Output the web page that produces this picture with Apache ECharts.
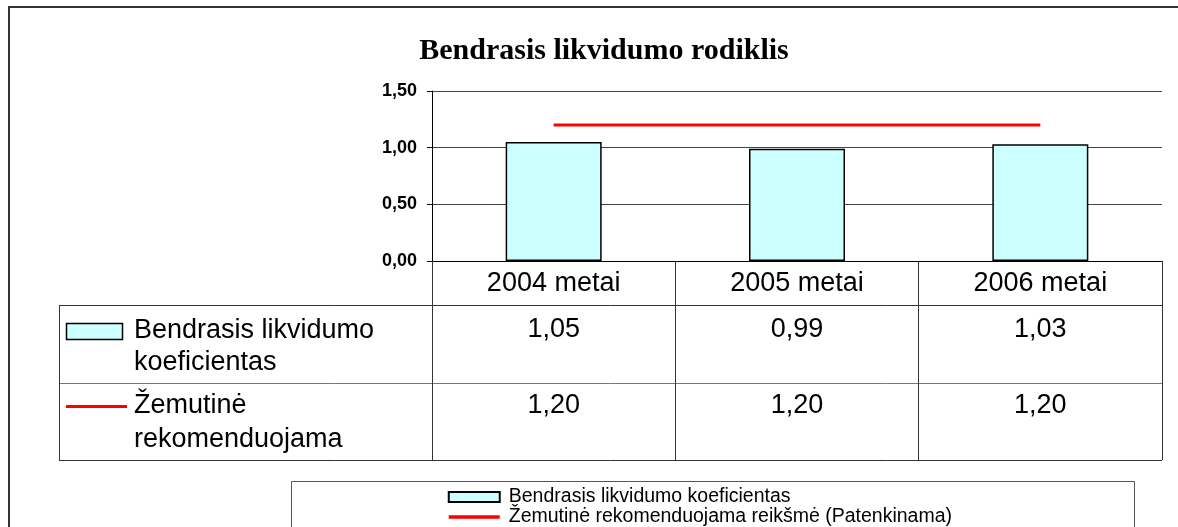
<!DOCTYPE html>
<html>
<head>
<meta charset="utf-8">
<script src="https://cdn.jsdelivr.net/npm/echarts@6/dist/echarts.min.js"></script>
<style>
html,body{margin:0;padding:0;background:#fff;}
#chart{width:1178px;height:527px;}
</style>
</head>
<body>
<div id="chart"></div>
<script>
// ---- data ----
var titleText = 'Bendrasis likvidumo rodiklis';
var categories = ['2004 metai', '2005 metai', '2006 metai'];
var barName = 'Bendrasis likvidumo koeficientas';
var lineName = 'Žemutinė rekomenduojama reikšmė (Patenkinama)';
var barValues = [1.05, 0.99, 1.03];
var lineValues = [1.20, 1.20, 1.20];
var rowHeaders = [['Bendrasis likvidumo', 'koeficientas'], ['Žemutinė', 'rekomenduojama']];
var yMin = 0, yMax = 1.5, yInterval = 0.5;

function fmt(v) { return v.toFixed(2).replace('.', ','); }

var SANS = '"Liberation Sans", Arial, sans-serif';
var SERIF = '"Liberation Serif", "Times New Roman", serif';

var chart = echarts.init(document.getElementById('chart'), null, {renderer: 'canvas'});

var option = {
  backgroundColor: '#fff',
  animation: false,
  title: {
    text: titleText,
    left: 599, top: 30, textAlign: 'center',
    textStyle: {fontFamily: SERIF, fontWeight: 'bold', fontSize: 30, lineHeight: 32, color: '#000'}
  },
  grid: {left: 432, right: 16, top: 91, bottom: 266, containLabel: false},
  legend: {
    orient: 'vertical', left: 447, top: 487, padding: 0, itemGap: 0,
    itemWidth: 51, itemHeight: 10,
    textStyle: {fontFamily: SANS, fontSize: 19.5, lineHeight: 18, color: '#000', padding: [0, 0, 0, 4]},
    data: [
      {name: barName, icon: 'rect', itemStyle: {borderWidth: 2, borderColor: '#000'}},
      {name: lineName, itemStyle: {opacity: 0, color: 'rgba(0,0,0,0)', borderWidth: 0}, lineStyle: {width: 3.5, color: '#FF0000'}}
    ]
  },
  xAxis: {
    type: 'category', data: categories, boundaryGap: true,
    axisLine: {show: true, lineStyle: {color: '#000', width: 1}},
    axisTick: {show: true, interval: 0, length: 199, inside: false, alignWithLabel: false, lineStyle: {color: '#333', width: 1}},
    axisLabel: {interval: 0, margin: 10, fontFamily: SANS, fontSize: 27, lineHeight: 26, color: '#000'},
    splitLine: {show: false}
  },
  yAxis: {
    type: 'value', min: yMin, max: yMax, interval: yInterval,
    axisLine: {show: true, lineStyle: {color: '#000', width: 1}},
    axisTick: {show: true, length: 5, inside: false, lineStyle: {color: '#000'}},
    axisLabel: {margin: 15, fontFamily: SANS, fontWeight: 'bold', fontSize: 18, color: '#000', formatter: fmt},
    splitLine: {show: true, lineStyle: {color: '#444', width: 1}}
  },
  series: [
    {
      name: barName, type: 'bar', data: barValues, barWidth: 96,
      itemStyle: {color: '#CCFFFF', borderColor: '#000', borderWidth: 1.5}
    },
    {
      name: lineName, type: 'line', data: lineValues, symbol: 'none', z: 5,
      lineStyle: {color: '#FF0000', width: 3},
      itemStyle: {color: '#FF0000'}
    }
  ]
};
chart.setOption(option);

// ---- data table & frames (positions from the chart's own scales) ----
var xs = categories.map(function (c) { return chart.convertToPixel({xAxisIndex: 0}, c); });
var plotRight = 1162;
var tableLeft = 59;
var rowTops = [305, 383, 460];
var rowTextY = [[331, 363], [406, 440]];
var valueY = [330, 406];
var rows = [barValues, lineValues];

var g = [];
// outer frame
g.push({type: 'rect', shape: {x: 9, y: 7, width: 1200, height: 600}, style: {fill: 'none', stroke: '#333', lineWidth: 2}, silent: true});
// legend box
g.push({type: 'rect', shape: {x: 291.5, y: 481.5, width: 843, height: 100}, style: {fill: 'none', stroke: '#555', lineWidth: 1}, silent: true, z: -1});
// table horizontal lines
rowTops.forEach(function (y, i) {
  g.push({type: 'line', shape: {x1: tableLeft, y1: y + 0.5, x2: plotRight, y2: y + 0.5},
    style: {stroke: i === 1 ? '#777' : '#333', lineWidth: 1}, silent: true});
});
// table left border
g.push({type: 'line', shape: {x1: tableLeft + 0.5, y1: rowTops[0], x2: tableLeft + 0.5, y2: rowTops[2] + 1}, style: {stroke: '#333', lineWidth: 1}, silent: true});
// row header keys
g.push({type: 'rect', shape: {x: 66.5, y: 323.5, width: 56, height: 16}, style: {fill: '#CCFFFF', stroke: '#000', lineWidth: 1.5}, silent: true});
g.push({type: 'line', shape: {x1: 66, y1: 406.5, x2: 127, y2: 406.5}, style: {stroke: '#FF0000', lineWidth: 3}, silent: true});
// row header texts
rowHeaders.forEach(function (lines, r) {
  lines.forEach(function (t, k) {
    g.push({type: 'text', x: 134, y: rowTextY[r][k], silent: true,
      style: {text: t, fill: '#000', fontFamily: SANS, fontSize: 27, align: 'left', verticalAlign: 'middle'}});
  });
});
// values
rows.forEach(function (vals, r) {
  vals.forEach(function (v, i) {
    g.push({type: 'text', x: xs[i], y: valueY[r], silent: true,
      style: {text: fmt(v), fill: '#000', fontFamily: SANS, fontSize: 27, align: 'center', verticalAlign: 'middle'}});
  });
});
chart.setOption({graphic: g});
</script>
</body>
</html>
